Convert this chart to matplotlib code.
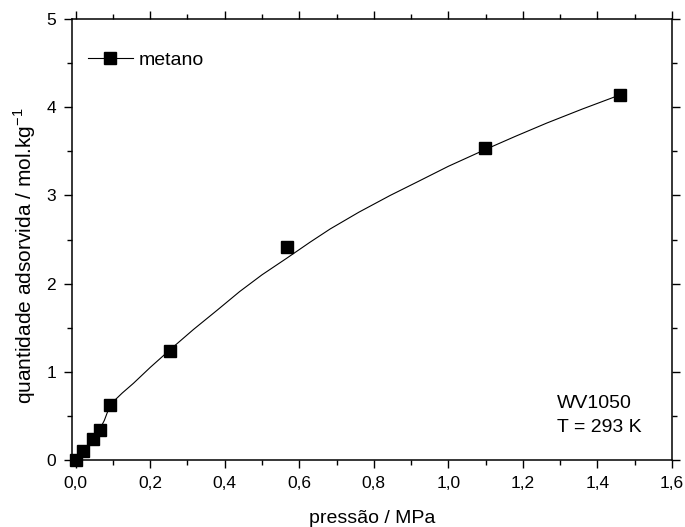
import matplotlib
matplotlib.use("Agg")
from matplotlib import pyplot as plt
from matplotlib.lines import Line2D
from matplotlib.ticker import MultipleLocator, FuncFormatter

plt.rcParams["font.family"] = ["Liberation Sans", "DejaVu Sans"]

# measured points (pressure MPa, adsorbed amount mol/kg)
pressao = [0.0, 0.020, 0.046, 0.066, 0.093, 0.253, 0.567, 1.099, 1.461]
quantidade = [0.0, 0.10, 0.24, 0.34, 0.62, 1.24, 2.42, 3.54, 4.14]

# fitted curve
curva_p = [0.066, 0.077, 0.093, 0.125, 0.155, 0.200, 0.253, 0.316, 0.380,
           0.440, 0.500, 0.567, 0.629, 0.683, 0.760, 0.844, 0.920, 1.000,
           1.099, 1.180, 1.264, 1.360, 1.461]
curva_q = [0.36, 0.45, 0.63, 0.76, 0.87, 1.05, 1.25, 1.48, 1.70,
           1.91, 2.10, 2.29, 2.47, 2.62, 2.81, 3.00, 3.16, 3.33,
           3.52, 3.67, 3.82, 3.98, 4.14]

fig = plt.figure(figsize=(6.85, 5.27), dpi=100)
ax = fig.add_axes([0.105, 0.127, 0.876, 0.837])

ax.plot(curva_p, curva_q, color="black", lw=0.8)
ax.plot(pressao, quantidade, "s", color="black", ms=8.5, clip_on=False, zorder=3)

ax.set_xlim(-0.01, 1.6)
ax.set_ylim(0, 5)
ax.xaxis.set_major_locator(MultipleLocator(0.2))
ax.xaxis.set_minor_locator(MultipleLocator(0.1))
ax.yaxis.set_major_locator(MultipleLocator(1))
ax.yaxis.set_minor_locator(MultipleLocator(0.5))
ax.xaxis.set_major_formatter(FuncFormatter(lambda v, p: f"{v:.1f}".replace(".", ",")))

for s in ax.spines.values():
    s.set_linewidth(1.1)
ax.tick_params(which="both", direction="out", labelsize=12.5, width=1.0,
               top=True, right=True)
ax.tick_params(which="major", length=5.5)
ax.tick_params(which="minor", length=3.5)
ax.tick_params(axis="x", which="major", pad=6)
ax.tick_params(axis="y", which="major", pad=6)

ax.set_xlabel("pressão / MPa", fontsize=14, labelpad=14)
ax.set_ylabel("quantidade adsorvida / mol.kg$^{\\mathregular{-1}}$", fontsize=15)
ax.yaxis.set_label_coords(-0.056, 0.463)

handle = Line2D([], [], color="black", lw=0.8, marker="s", ms=8.5)
ax.legend([handle], ["metano"], loc="upper left", frameon=False, fontsize=14,
          handlelength=2.3, handletextpad=0.3, borderpad=0, borderaxespad=0,
          bbox_to_anchor=(0.027, 0.926))

ax.text(0.808, 0.147, "WV1050\nT = 293 K", transform=ax.transAxes, fontsize=14,
        va="top", ha="left", linespacing=1.5)

fig.savefig("out.png", dpi=100)
